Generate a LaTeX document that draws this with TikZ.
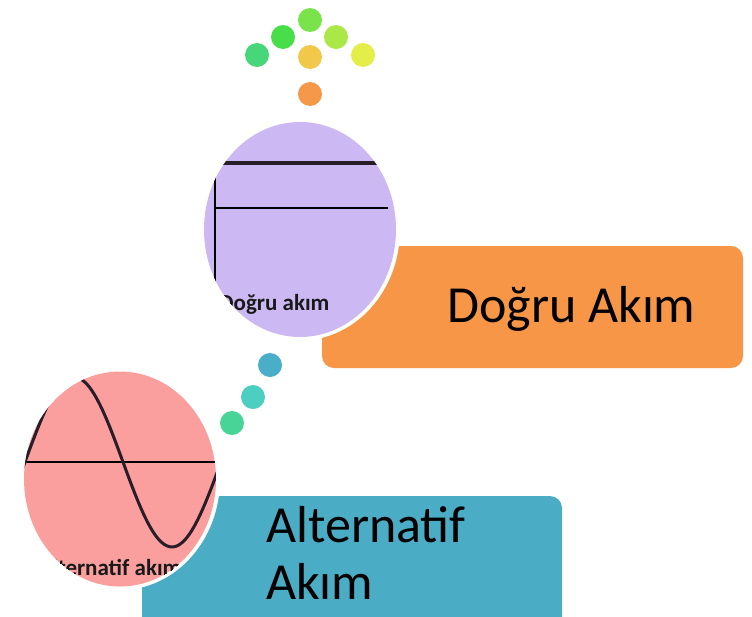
\documentclass[tikz,border=0pt]{standalone}
\usepackage{fontspec}
\setmainfont{Carlito}
\definecolor{boxorange}{RGB}{247,150,70}
\definecolor{boxblue}{RGB}{75,172,198}
\definecolor{picpurple}{RGB}{204,184,242}
\definecolor{picpink}{RGB}{250,158,158}
\definecolor{dA}{RGB}{122,226,74}
\definecolor{dB}{RGB}{72,222,74}
\definecolor{dC}{RGB}{170,232,72}
\definecolor{dD}{RGB}{72,214,122}
\definecolor{dE}{RGB}{242,200,74}
\definecolor{dF}{RGB}{228,238,72}
\definecolor{dG}{RGB}{246,152,74}
\definecolor{dH}{RGB}{74,174,200}
\definecolor{dI}{RGB}{76,206,192}
\definecolor{dJ}{RGB}{72,212,150}
\definecolor{inkline}{RGB}{40,30,40}
\begin{document}
\begin{tikzpicture}[x=1pt,y=-1pt,
  dot/.style={circle,inner sep=0pt,minimum size=24pt},
  bigtext/.style={font=\fontsize{52}{57}\selectfont,text=black,inner sep=0pt},
  pictext/.style={font=\bfseries\fontsize{23}{26}\selectfont,text=black!90,inner sep=0pt}]
\useasboundingbox (0,0) rectangle (752,616);
% boxes
\fill[boxorange,rounded corners=12pt] (322,246) rectangle (743,368);
\fill[boxblue,rounded corners=12pt] (142,496) rectangle (562,640);
% texts
\node[bigtext,anchor=base west] (tdc) at (447,322) {Doğru Akım};
\node[bigtext,anchor=base west] (tac1) at (266,542) {Alternatif};
\node[bigtext,anchor=base west] (tac2) at (266,599) {Akım};
% top dots
\node[dot,fill=dA] (d1) at (310,20) {};
\node[dot,fill=dB] (d2) at (283,37) {};
\node[dot,fill=dC] (d3) at (336,37) {};
\node[dot,fill=dD] (d4) at (257,55) {};
\node[dot,fill=dE] (d5) at (310,57) {};
\node[dot,fill=dF] (d6) at (363,55) {};
\node[dot,fill=dG] (d7) at (310,94) {};
% middle dots
\node[dot,fill=dH] (m1) at (270,365) {};
\node[dot,fill=dI] (m2) at (253,397) {};
\node[dot,fill=dJ] (m3) at (232,423) {};
% purple picture
\fill[white] (300,229.5) ellipse [x radius=100,y radius=111];
\begin{scope}
  \clip (300,229.5) ellipse [x radius=96,y radius=107.5];
  \fill[picpurple] (200,120) rectangle (400,340);
  \draw[inkline,line width=3.5pt] (223,163) -- (400,163);
  \draw[black,line width=2.5pt] (215,208) -- (388,208);
  \draw[black,line width=2.5pt] (215,177) -- (215,340);
  \node[pictext,anchor=base west] (dclbl) at (219,310) {Doğru akım};
\end{scope}
% pink picture
\fill[white] (120,479) ellipse [x radius=100,y radius=111];
\begin{scope}
  \clip (120,479) ellipse [x radius=96,y radius=107.5];
  \fill[picpink] (20,365) rectangle (220,590);
  \draw[black,line width=2.5pt] (20,462) -- (220,462);
  \draw[inkline,line width=3pt,domain=0:240,samples=80,smooth]
    plot ({\x},{462-85*sin((\x-25)*1.8367)});
  \node[pictext,anchor=base west] (aclbl) at (38,575) {Alternatif akım};
\end{scope}
\end{tikzpicture}
\end{document}
